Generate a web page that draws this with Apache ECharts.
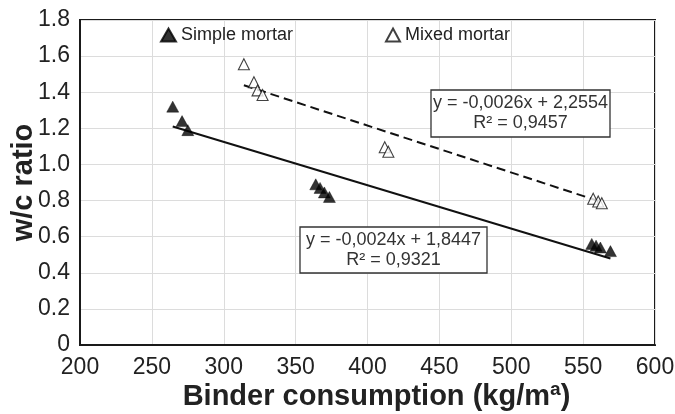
<!DOCTYPE html>
<html>
<head>
<meta charset="utf-8">
<script src="https://cdn.jsdelivr.net/npm/echarts@6/dist/echarts.min.js"></script>
<style>
html,body{margin:0;padding:0;background:#fff;}
#chart{width:675px;height:414px;}
</style>
</head>
<body>
<div id="chart"></div>
<script>
// ---- Data ----
const simpleX = [264.5, 271, 275, 364, 367, 370, 373.5, 556, 559, 562, 569];
const simpleY = [1.32, 1.24, 1.19, 0.89, 0.87, 0.845, 0.82, 0.56, 0.55, 0.54, 0.52];
const mixedX  = [314, 321, 323.5, 327, 412, 414.5, 557, 560.5, 563];
const mixedY  = [1.555, 1.455, 1.41, 1.385, 1.095, 1.07, 0.81, 0.795, 0.785];
// trend line coefficients as printed on the chart
const simpleTrend = [-0.0024, 1.8447];
const mixedTrend  = [-0.0026, 2.2554];
const simpleLabel = ['y = -0,0024x + 1,8447', 'R² = 0,9321'];
const mixedLabel  = ['y = -0,0026x + 2,2554', 'R² = 0,9457'];
const seriesNames = ['Simple mortar', 'Mixed mortar'];
const xTicks = [200, 600, 50];
const yTicks = [0, 1.8, 0.2];

const FONT = 'Liberation Sans, Arial, Helvetica, sans-serif';
const pts = (xs, ys) => xs.map((x, i) => [x, ys[i]]);
const trend = (xs, c) => {
  const a = Math.min(...xs), b = Math.max(...xs);
  return [[a, c[0] * a + c[1]], [b, c[0] * b + c[1]]];
};
function eqBox(lines, x, y, w, h) {
  return {
    type: 'group', z: 10,
    children: [
      {type: 'rect', shape: {x: x, y: y, width: w, height: h},
       style: {fill: '#fff', stroke: '#333', lineWidth: 1.3}, z: 10},
      {type: 'text', x: x + w / 2, y: y + h / 2 - 10, z: 11,
       style: {text: lines[0], font: '18px ' + FONT, fill: '#333', align: 'center', verticalAlign: 'middle'}},
      {type: 'text', x: x + w / 2, y: y + h / 2 + 10, z: 11,
       style: {text: lines[1], font: '18px ' + FONT, fill: '#333', align: 'center', verticalAlign: 'middle'}}
    ]
  };
}

const chart = echarts.init(document.getElementById('chart'));
chart.setOption({
  animation: false,
  backgroundColor: '#fff',
  grid: {left: 80, right: 20, top: 20, bottom: 69, show: true, borderColor: '#1a1a1a', borderWidth: 2,
         backgroundColor: 'transparent', containLabel: false, outerBoundsMode: 'none'},
  legend: [
    {data: [seriesNames[0]], left: 155, top: 21, itemWidth: 15, itemHeight: 13, itemGap: 5,
     icon: 'triangle', textStyle: {fontFamily: FONT, fontSize: 18, color: '#222'}},
    {data: [seriesNames[1]], left: 380, top: 21, itemWidth: 14, itemHeight: 13, itemGap: 5,
     icon: 'triangle', textStyle: {fontFamily: FONT, fontSize: 18, color: '#222'}}
  ],
  xAxis: {
    type: 'value', min: xTicks[0], max: xTicks[1], interval: xTicks[2],
    name: 'Binder consumption (kg/mª)', nameLocation: 'middle', nameGap: 37, nameMoveOverlap: false,
    nameTextStyle: {fontFamily: FONT, fontSize: 29, fontWeight: 'bold', color: '#222', padding: [0, 0, 0, 18]},
    axisLine: {lineStyle: {color: '#1a1a1a', width: 2}},
    axisTick: {show: false},
    axisLabel: {fontFamily: FONT, fontSize: 23, color: '#222', margin: 11},
    splitLine: {show: true, lineStyle: {color: '#dcdcdc', width: 1}}
  },
  yAxis: {
    type: 'value', min: yTicks[0], max: yTicks[1], interval: yTicks[2],
    name: 'w/c ratio', nameLocation: 'middle', nameGap: 42, nameMoveOverlap: false,
    nameTextStyle: {fontFamily: FONT, fontSize: 29, fontWeight: 'bold', color: '#222'},
    axisLine: {show: true, lineStyle: {color: '#1a1a1a', width: 2}},
    axisTick: {show: false},
    axisLabel: {fontFamily: FONT, fontSize: 23, color: '#222', margin: 10,
      formatter: v => (Math.abs(v) < 1e-9 ? '0' : v.toFixed(1))},
    splitLine: {show: true, lineStyle: {color: '#dcdcdc', width: 1}}
  },
  series: [
    {name: 'trendSimple', type: 'line', data: trend(simpleX, simpleTrend), showSymbol: false, symbol: 'none',
     lineStyle: {color: '#111', width: 2, type: 'solid'}, z: 2, silent: true},
    {name: 'trendMixed', type: 'line', data: trend(mixedX, mixedTrend), showSymbol: false, symbol: 'none',
     lineStyle: {color: '#111', width: 2, type: [9, 5]}, z: 2, silent: true},
    {name: seriesNames[0], type: 'scatter', data: pts(simpleX, simpleY), symbol: 'triangle', symbolSize: [12, 11],
     itemStyle: {color: '#000', borderColor: '#000', borderWidth: 0.5}, z: 5},
    {name: seriesNames[1], type: 'scatter', data: pts(mixedX, mixedY), symbol: 'triangle', symbolSize: [11, 11],
     itemStyle: {color: '#fff', borderColor: '#111', borderWidth: 1.1}, z: 5}
  ],
  graphic: [
    eqBox(mixedLabel, 431, 90, 179, 47),
    eqBox(simpleLabel, 300, 227, 187, 46)
  ]
});
</script>
</body>
</html>
